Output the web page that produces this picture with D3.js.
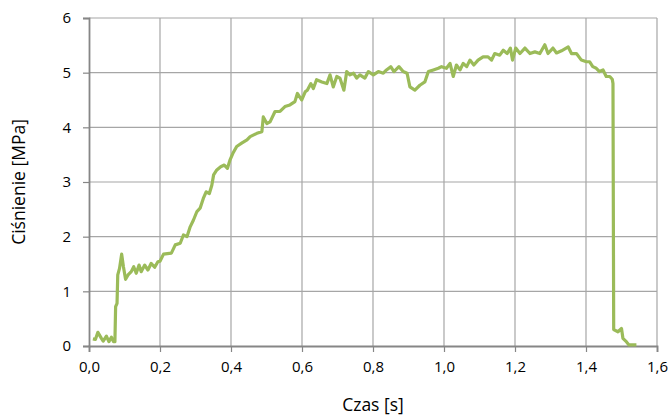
<!DOCTYPE html>
<html>
<head>
<meta charset="utf-8">
<script src="https://cdn.jsdelivr.net/npm/d3@7"></script>
<style>
  body { margin: 0; background: #fff; }
  text { font-family: "Open Sans", Lato, sans-serif; fill: #000; }
</style>
</head>
<body>
<div id="plothere"></div>
<script>
// czas [s] i ciśnienie [MPa]
var czas = [0.011, 0.018, 0.025, 0.035, 0.040, 0.049, 0.056, 0.063, 0.069, 0.073,
  0.075, 0.079, 0.081, 0.086, 0.092, 0.097, 0.103, 0.110, 0.119, 0.126,
  0.133, 0.141, 0.147, 0.157, 0.166, 0.175, 0.185, 0.194, 0.200, 0.210,
  0.232, 0.243, 0.257, 0.266, 0.276, 0.285, 0.294, 0.304, 0.313, 0.322,
  0.330, 0.339, 0.346, 0.351, 0.360, 0.371, 0.381, 0.390, 0.397, 0.405,
  0.416, 0.430, 0.445, 0.454, 0.473, 0.487, 0.491, 0.501, 0.510, 0.524,
  0.538, 0.552, 0.566, 0.580, 0.587, 0.599, 0.609, 0.615, 0.625, 0.632,
  0.641, 0.656, 0.670, 0.679, 0.688, 0.698, 0.707, 0.718, 0.726, 0.735,
  0.745, 0.754, 0.763, 0.777, 0.787, 0.801, 0.815, 0.829, 0.838, 0.850,
  0.859, 0.873, 0.885, 0.896, 0.904, 0.918, 0.932, 0.946, 0.956, 0.970,
  0.984, 0.993, 1.007, 1.017, 1.026, 1.035, 1.045, 1.054, 1.064, 1.073,
  1.084, 1.096, 1.110, 1.124, 1.134, 1.143, 1.157, 1.167, 1.178, 1.187,
  1.193, 1.202, 1.214, 1.228, 1.242, 1.256, 1.270, 1.284, 1.293, 1.307,
  1.317, 1.331, 1.350, 1.359, 1.373, 1.387, 1.401, 1.410, 1.419, 1.429,
  1.438, 1.448, 1.457, 1.467, 1.474, 1.476, 1.478, 1.490, 1.500, 1.504,
  1.512, 1.521, 1.542];
var cisnienie = [0.13, 0.12, 0.25, 0.14, 0.09, 0.18, 0.08, 0.16, 0.08, 0.08,
  0.72, 0.78, 1.30, 1.42, 1.68, 1.45, 1.22, 1.30, 1.36, 1.45,
  1.33, 1.48, 1.36, 1.48, 1.39, 1.51, 1.44, 1.54, 1.55, 1.68,
  1.70, 1.85, 1.88, 2.03, 2.00, 2.18, 2.30, 2.46, 2.52, 2.70,
  2.82, 2.79, 2.94, 3.13, 3.22, 3.28, 3.31, 3.25, 3.40, 3.52,
  3.65, 3.71, 3.77, 3.83, 3.89, 3.92, 4.19, 4.07, 4.10, 4.29,
  4.29, 4.38, 4.41, 4.47, 4.62, 4.50, 4.65, 4.68, 4.80, 4.71,
  4.87, 4.83, 4.80, 4.96, 4.74, 4.93, 4.90, 4.68, 5.02, 4.96,
  4.99, 4.90, 4.96, 4.90, 5.02, 4.96, 5.02, 4.99, 5.05, 5.11,
  5.02, 5.11, 5.02, 4.99, 4.74, 4.68, 4.77, 4.83, 5.02, 5.05,
  5.08, 5.11, 5.08, 5.17, 4.93, 5.14, 5.05, 5.17, 5.11, 5.23,
  5.14, 5.23, 5.29, 5.29, 5.23, 5.35, 5.32, 5.41, 5.35, 5.45,
  5.23, 5.45, 5.35, 5.45, 5.35, 5.38, 5.35, 5.51, 5.35, 5.45,
  5.36, 5.40, 5.47, 5.35, 5.35, 5.23, 5.20, 5.20, 5.11, 5.08,
  5.02, 5.05, 4.93, 4.93, 4.88, 4.80, 0.30, 0.26, 0.32, 0.14,
  0.09, 0.02, 0.02];
var xTicks = [0, 0.2, 0.4, 0.6, 0.8, 1.0, 1.2, 1.4, 1.6];
var yTicks = [0, 1, 2, 3, 4, 5, 6];

var dane = czas.map(function(t, i) { return {t: t, p: cisnienie[i]}; });

var margin = {top: 18, right: 15, bottom: 70, left: 89},
    width = 672 - margin.left - margin.right,
    height = 416 - margin.top - margin.bottom;

var svg = d3.select("#plothere")
  .append("svg")
    .attr("width", 672)
    .attr("height", 416)
  .append("g")
    .attr("transform", "translate(" + margin.left + "," + margin.top + ")");

var x = d3.scaleLinear().domain([0, 1.6]).range([0, width]);
var y = d3.scaleLinear().domain([0, 6]).range([height, 0]);
var fmt = function(d) { return d3.format(".1f")(d).replace(".", ","); };

// siatka
svg.append("g")
  .selectAll("line.gx")
  .data(xTicks.slice(1))
  .enter().append("line")
    .attr("x1", function(d) { return x(d); })
    .attr("x2", function(d) { return x(d); })
    .attr("y1", 0).attr("y2", height)
    .attr("stroke", "#a6a6a6").attr("stroke-width", 1.2);
svg.append("g")
  .selectAll("line.gy")
  .data(yTicks.slice(1))
  .enter().append("line")
    .attr("x1", 0).attr("x2", width)
    .attr("y1", function(d) { return y(d); })
    .attr("y2", function(d) { return y(d); })
    .attr("stroke", "#a6a6a6").attr("stroke-width", 1.2);

// osie
var xAxis = svg.append("g")
  .attr("transform", "translate(0," + height + ")")
  .call(d3.axisBottom(x).tickValues(xTicks).tickFormat(fmt).tickSizeOuter(0).tickSize(6).tickPadding(9));
var yAxis = svg.append("g")
  .call(d3.axisLeft(y).tickValues(yTicks).tickFormat(d3.format("d")).tickSizeOuter(0).tickSize(6).tickPadding(12));
[xAxis, yAxis].forEach(function(a) {
  a.select(".domain").attr("stroke", "#868686").attr("stroke-width", 1.8);
  a.selectAll(".tick line").attr("stroke", "#868686").attr("stroke-width", 1.2);
  a.selectAll(".tick text").style("font-size", "15px").attr("fill", "#000");
});

// linia
svg.append("path")
  .datum(dane)
  .attr("fill", "none")
  .attr("stroke", "#9bbb59")
  .attr("stroke-width", 3.2)
  .attr("stroke-linejoin", "round")
  .attr("d", d3.line()
    .x(function(d) { return x(d.t); })
    .y(function(d) { return y(d.p); }));

// podpisy osi
svg.append("text")
  .attr("x", width / 2)
  .attr("y", height + 65)
  .attr("text-anchor", "middle")
  .style("font-size", "17.5px")
  .text("Czas [s]");
svg.append("text")
  .attr("transform", "translate(" + (-64) + "," + (height / 2) + ") rotate(-90)")
  .attr("text-anchor", "middle")
  .style("font-size", "17.5px")
  .text("Ciśnienie [MPa]");
</script>
</body>
</html>
